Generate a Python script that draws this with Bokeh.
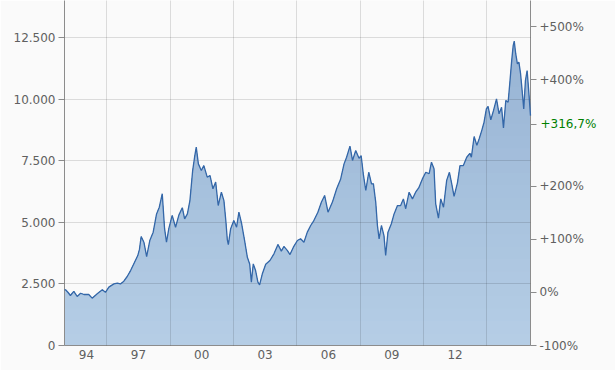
import numpy as np
from bokeh.plotting import figure
from bokeh.models import Range1d, LinearAxis, FixedTicker
from bokeh.embed import file_html
from bokeh.resources import INLINE

# ---- data (decimal year, index level) ----
years = [
    1994.00, 1994.05, 1994.17, 1994.28, 1994.44, 1994.60, 1994.76, 1994.92,
    1995.15, 1995.31, 1995.55, 1995.79, 1995.94,
    1996.10, 1996.34, 1996.50, 1996.65, 1996.81, 1996.97,
    1997.13, 1997.28, 1997.47, 1997.55, 1997.63, 1997.76, 1997.89,
    1998.04, 1998.20, 1998.36, 1998.49, 1998.63, 1998.74, 1998.83, 1998.94,
    1999.10, 1999.26, 1999.42, 1999.58, 1999.69, 1999.82, 1999.94,
    2000.07, 2000.16, 2000.24, 2000.34, 2000.48, 2000.60, 2000.76, 2000.89,
    2001.03, 2001.16, 2001.28, 2001.43, 2001.55, 2001.64, 2001.71, 2001.76, 2001.87,
    2002.02, 2002.15, 2002.26, 2002.39, 2002.53, 2002.66, 2002.77, 2002.85, 2002.94,
    2003.05, 2003.16, 2003.24, 2003.37, 2003.53, 2003.73, 2003.92,
    2004.11, 2004.27, 2004.39, 2004.55, 2004.68, 2004.84,
    2005.03, 2005.18, 2005.34, 2005.50, 2005.66, 2005.81,
    2006.00, 2006.17, 2006.32, 2006.48, 2006.69, 2006.89,
    2007.08, 2007.24, 2007.36, 2007.52, 2007.64, 2007.79, 2007.95,
    2008.05, 2008.16, 2008.27, 2008.41, 2008.54, 2008.63, 2008.74, 2008.82, 2008.90,
    2009.01, 2009.13, 2009.21, 2009.32, 2009.48, 2009.61, 2009.77, 2009.92,
    2010.05, 2010.16, 2010.32, 2010.48, 2010.63, 2010.79, 2010.95,
    2011.11, 2011.27, 2011.38, 2011.50, 2011.58, 2011.71, 2011.82, 2011.95,
    2012.10, 2012.23, 2012.34, 2012.45, 2012.61, 2012.73, 2012.89,
    2013.05, 2013.20, 2013.27, 2013.40, 2013.53, 2013.64, 2013.76, 2013.87, 2013.98,
    2014.06, 2014.19, 2014.32, 2014.46, 2014.58, 2014.70, 2014.79, 2014.90,
    2015.01, 2015.10, 2015.18, 2015.25, 2015.30, 2015.37, 2015.45, 2015.52,
    2015.60, 2015.68, 2015.75, 2015.83, 2015.91, 2015.99, 2016.07,
]
values = [
    2260, 2260, 2150, 2030, 2200, 1990, 2120, 2070,
    2070, 1920, 2100, 2260, 2160,
    2370, 2500, 2530, 2500, 2610, 2800,
    3040, 3310, 3650, 3900, 4420, 4190, 3610,
    4260, 4600, 5340, 5610, 6160, 4740, 4190, 4740,
    5280, 4800, 5300, 5590, 5140, 5340, 5880,
    7100, 7640, 8050, 7370, 7100, 7300, 6830, 6900,
    6360, 6630, 5680, 6220, 5880, 5070, 4300, 4090, 4740,
    5070, 4800, 5410, 4940, 4260, 3580, 3310, 2570, 3310,
    3040, 2570, 2460, 2910, 3300, 3450, 3720,
    4100, 3830, 4020, 3860, 3690, 3990,
    4260, 4330, 4190, 4600, 4870, 5070,
    5410, 5820, 6090, 5410, 5820, 6360,
    6760, 7370, 7640, 8090, 7510, 7910, 7600,
    7700, 6900, 6290, 7030, 6560, 6560, 5820, 4870, 4330,
    4870, 4460, 3650, 4600, 4940, 5340, 5680, 5680,
    5950, 5550, 6220, 5950, 6220, 6420, 6760,
    7030, 6970, 7440, 7170, 5750, 5170, 5950, 5610,
    6700, 7030, 6560, 6050, 6600, 7300, 7300,
    7640, 7800, 7640, 8480, 8120, 8390, 8720, 9060, 9600,
    9700, 9160, 9540, 10010, 9400, 9670, 8830, 9940,
    9870, 10750, 11570, 12170, 12350, 11840, 11430, 11500,
    11030, 10280, 9600, 10750, 11160, 10280, 9330,
]

base_value = 2155            # level that corresponds to 0 %
y_max = 14000
left_ticks = [0, 2500, 5000, 7500, 10000, 12500]
left_labels = ["0", "2.500", "5.000", "7.500", "10.000", "12.500"]
pct_ticks = [-100, 0, 100, 200, 316.7, 400, 500]
pct_labels = ["-100%", "0%", "+100%", "+200%", "", "+400%", "+500%"]
pct_current = 316.7
pct_current_label = "+316,7%"
x_grid_years = [1996, 1999, 2002, 2005, 2008, 2011, 2014]
x_label_pos = [1995.04, 1997.5, 2000.5, 2003.5, 2006.5, 2009.5, 2012.5]
x_labels = ["94", "97", "00", "03", "06", "09", "12"]

FONT = "DejaVu Sans"
TXT = "#606060"
AXC = "#8c8c8c"
BG = "#fafafa"

p = figure(width=615, height=370, output_backend="svg", toolbar_location=None,
           x_range=Range1d(years[0], years[-1]), y_range=Range1d(0, y_max),
           min_border_left=64, min_border_right=85, min_border_top=0,
           min_border_bottom=25, background_fill_color=BG,
           border_fill_color=BG, outline_line_color=None)

# gradient-like area fill: stacked bands from dark (top) to light (bottom)
vals = np.array(values, dtype=float)
top_rgb = np.array([148, 177, 210])
bot_rgb = np.array([182, 206, 230])
n_bands = 28
for k in range(n_bands, 0, -1):
    hi = y_max * k / n_bands
    t = k / n_bands
    c = (bot_rgb + (top_rgb - bot_rgb) * t).round().astype(int)
    col = "#%02x%02x%02x" % tuple(c)
    p.varea(x=years, y1=0, y2=np.minimum(vals, hi), fill_color=col)

p.line(years, values, line_color="#3467a8", line_width=1.3, level="annotation")

# grids
p.ygrid.ticker = FixedTicker(ticks=left_ticks[1:])
p.xgrid.ticker = FixedTicker(ticks=x_grid_years)
for g in (p.xgrid, p.ygrid):
    g.grid_line_color = "#000000"
    g.grid_line_alpha = 0.12
    g.level = "guide"

# left axis
ya = p.yaxis[0]
ya.ticker = FixedTicker(ticks=left_ticks)
ya.major_label_overrides = dict(zip(left_ticks, left_labels))
ya.minor_tick_line_color = None
ya.major_tick_in = 0
ya.major_tick_out = 6
ya.major_label_standoff = 3

# bottom axis
xa = p.xaxis[0]
xa.ticker = FixedTicker(ticks=x_label_pos)
xa.major_label_overrides = dict(zip(x_label_pos, x_labels))
xa.minor_tick_line_color = None
xa.major_tick_in = 0
xa.major_tick_out = 0
xa.major_label_standoff = 4

# right percent axis (gray labels + all tick marks)
p.extra_y_ranges = {"pct": Range1d(-100, y_max / base_value * 100 - 100)}
TICK_OUT, STANDOFF = 6, 3
ra = LinearAxis(y_range_name="pct")
ra.ticker = FixedTicker(ticks=pct_ticks)
ra.major_label_overrides = dict(zip(pct_ticks, pct_labels))
ra.minor_tick_line_color = None
ra.major_tick_in = 0
ra.major_tick_out = TICK_OUT
ra.major_label_standoff = STANDOFF
p.add_layout(ra, "right")

# second right axis carrying only the green current-value label; it is pulled
# back over the first axis with a negative standoff so that it lines up with
# the other percent labels
gray_label_w = 47
ga = LinearAxis(y_range_name="pct")
ga.ticker = FixedTicker(ticks=[pct_current])
ga.major_label_overrides = {pct_current: pct_current_label}
ga.axis_line_color = None
ga.major_tick_line_color = None
ga.minor_tick_line_color = None
ga.major_tick_in = 0
ga.major_tick_out = 0
ga.major_label_standoff = (TICK_OUT + STANDOFF + 1) - (TICK_OUT + STANDOFF + gray_label_w)
ga.major_label_text_color = "#008000"
ga.major_label_text_font = FONT
ga.major_label_text_font_size = "12px"
p.add_layout(ga, "right")

for ax in (ya, xa, ra):
    ax.axis_line_color = AXC
    ax.major_tick_line_color = AXC
    ax.major_label_text_color = TXT
    ax.major_label_text_font = FONT
    ax.major_label_text_font_size = "12px"

open("out.html", "w").write(file_html(p, INLINE))
